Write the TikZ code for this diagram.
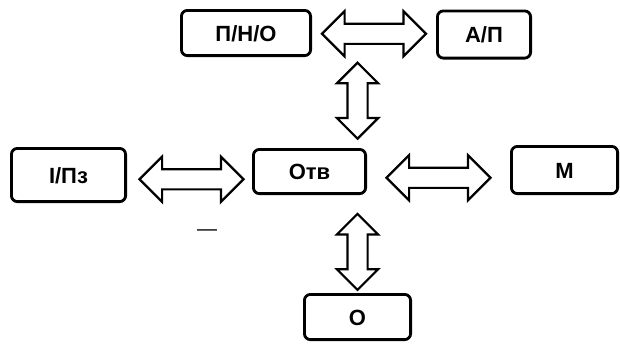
\documentclass[tikz,border=0pt]{standalone}
\usepackage{fontspec}
\setmainfont{Liberation Sans}
\usepackage{tikz}
\usetikzlibrary{shapes.arrows}
\usetikzlibrary{calc}

\tikzset{
    box/.style={draw, line width=1.4pt, rounded corners=3pt, inner sep=0pt,
        font=\fontsize{11}{13}\selectfont\bfseries, text height=8pt, text depth=0pt},
    dblarrow/.style={double arrow, draw, line width=1.1pt, inner sep=4.5pt,
        minimum width=1pt, double arrow tip angle=90, double arrow head extend=6.25pt,
        minimum height=52pt},
    dblarrowv/.style={dblarrow, shape border rotate=90, double arrow head extend=5.25pt,
        minimum height=38pt}
}

\begin{document}
\begin{tikzpicture}[x=0.5pt, y=-0.5pt]
            \useasboundingbox (0,0) rectangle (620,345);
            \node[box, minimum width=64.6pt, minimum height=22.6pt] (pno) at (246,33) {П/Н/О};
            \node[box, minimum width=46.6pt, minimum height=23.6pt] (ap) at (484,34.5) {А/П};
            \node[box, minimum width=57.1pt, minimum height=26.6pt] (ipz) at (68.5,175) {I/Пз};
            \node[box, minimum width=56.1pt, minimum height=22.1pt] (otv) at (309.5,171.5) {Отв};
            \node[box, minimum width=53.1pt, minimum height=23.6pt] (m) at (564.5,170) {М};
            \node[box, minimum width=53.1pt, minimum height=22.6pt] (o) at (357.5,317) {О};
            % double arrows between the boxes
            \node[dblarrow] (pno-ap) at ($(pno.east)!0.5!(ap.west)$) {};
            \node[dblarrow] (ipz-otv) at ($(ipz.east)!0.5!(otv.west) + (2,6)$) {};
            \node[dblarrow] (otv-m) at ($(otv.east)!0.5!(m.west) + (0,7)$) {};
            \node[dblarrowv] (pno-otv) at ($(o.center |- pno.south)!0.48!(o.center |- otv.north)$) {};
            \node[dblarrowv] (otv-o) at ($(o.north)!0.42!(o.center |- otv.south)$) {};
            \node[anchor=base, font=\fontsize{10}{12}\selectfont] (dash) at (207,235.5) {—};
        \end{tikzpicture}
\end{document}
